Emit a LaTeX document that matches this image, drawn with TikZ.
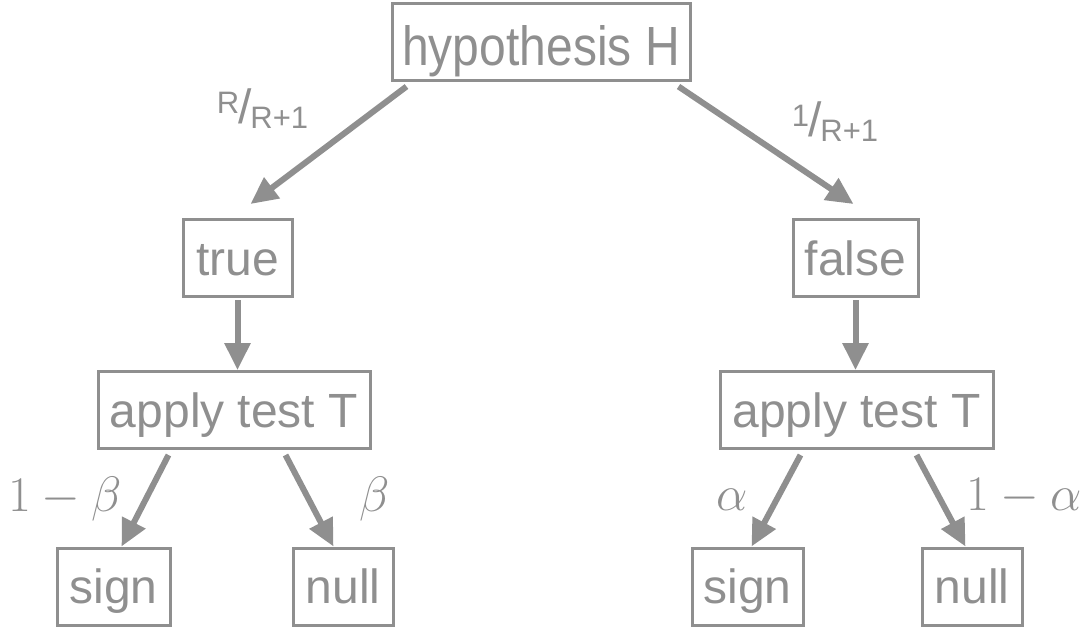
\documentclass[tikz,border=0pt]{standalone}
\usepackage{fontspec}
\setmainfont{Liberation Sans}
\usetikzlibrary{arrows.meta,calc}
\definecolor{dg}{RGB}{143,143,143}
\newcommand{\bigf}{\fontsize{24}{28}\selectfont}
\newcommand{\smf}{\fontsize{15.5}{18}\selectfont}
\newcommand{\fracl}[2]{\raisebox{5pt}{\smf #1}\kern-0.5pt/\kern-0.5pt\raisebox{-2.5pt}{\smf #2}}
\begin{document}
\begin{tikzpicture}[x=0.5pt,y=-0.5pt,
  box/.style={draw=dg, line width=1.5pt, text=dg, inner sep=0pt, font=\bigf,
    text height=17pt, text depth=0pt, minimum height=38.5pt},
  arr/.style={draw=dg, line width=3pt, -{Triangle[length=13.5pt,width=12.5pt]}},
  lab/.style={text=dg, inner sep=0pt, font=\bigf}]
\useasboundingbox (0,0) rectangle (1082,628);
% nodes
\node[box, minimum width=149pt, text height=23.5pt] (H) at (541,41.5) {\scalebox{1}[1.15]{hypothesis H}};
\node[box, minimum width=54.5pt] (t) at (237.5,258) {true};
\node[box, minimum width=62.5pt] (f) at (855.5,258) {false};
\node[box, minimum width=136pt] (aL) at (234,410) {apply test T};
\node[box, minimum width=136.5pt] (aR) at (856.5,410) {apply test T};
\node[box, minimum width=56.5pt] (sL) at (113.5,586.5) {sign};
\node[box, minimum width=50pt] (nL) at (343,586.5) {null};
\node[box, minimum width=55.5pt] (sR) at (747.5,586.5) {sign};
\node[box, minimum width=50pt] (nR) at (972,586.5) {null};
% connectors
\draw[arr] ($(H.south west)+(16,5)$) -- ($(t.north west)+(69,-14)$);
\draw[arr] ($(H.south east)+(-13,5)$) -- ($(f.north west)+(62,-14)$);
\draw[arr] ($(t.south)+(0,2)$) -- (t.south |- aL.north);
\draw[arr] ($(f.south)+(0,2)$) -- (f.south |- aR.north);
\draw[arr] ($(aL.south west)+(72,5)$) -- ($(sL.north west)+(66,0)$);
\draw[arr] ($(aL.south west)+(189,5)$) -- ($(nL.north west)+(42,0)$);
\draw[arr] ($(aR.south west)+(82,5)$) -- ($(sR.north west)+(61,0)$);
\draw[arr] ($(aR.south west)+(198,5)$) -- ($(nR.north west)+(45,0)$);
% labels
\node[lab] (lRR) at (262.5,109) {\fracl{R}{R+1}};
\node[lab] (l1R) at (835,121.5) {\fracl{1}{R+1}};
\node[lab, anchor=base] (lb1) at (65,511) {$1-\beta$};
\node[lab, anchor=base] (lb2) at (375,511) {$\beta$};
\node[lab, anchor=base] (la1) at (732,510) {$\alpha$};
\node[lab, anchor=base] (la2) at (1024,510) {$1-\alpha$};
\end{tikzpicture}
\end{document}
